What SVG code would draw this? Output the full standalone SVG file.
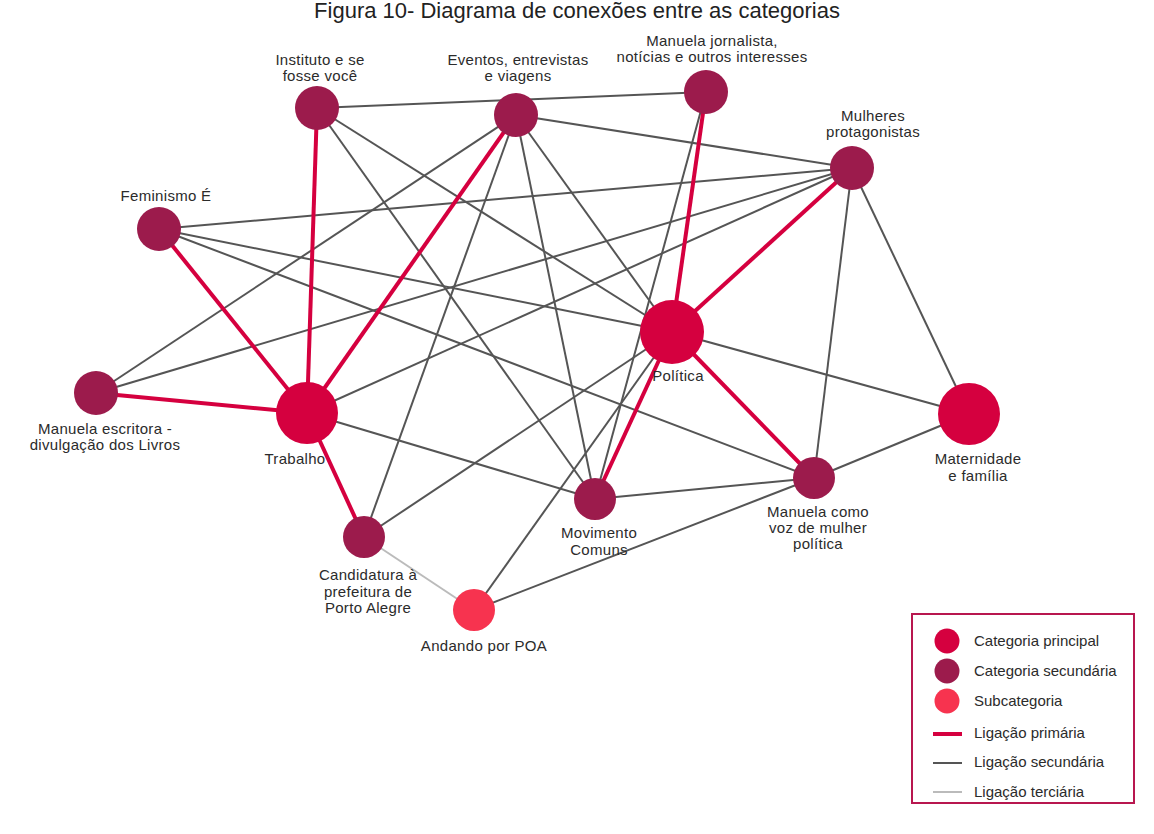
<svg xmlns="http://www.w3.org/2000/svg" width="1154" height="834" viewBox="0 0 1154 834">
<style>
  text{font-family:"Liberation Sans",Arial,sans-serif;fill:#2b2b2b}
  .title{font-size:22px;fill:#222;text-anchor:middle}
  .lbl{font-size:15px;letter-spacing:0.3px;text-anchor:middle}
  .leg{font-size:15px}
  .pri{stroke:#d5003f;stroke-width:4;fill:none}
  .sec{stroke:#555;stroke-width:2;fill:none}
  .ter{stroke:#bbb;stroke-width:2;fill:none}
  .main{fill:#d5003f}
  .second{fill:#9c1b4c}
  .sub{fill:#f7334f}
</style>
<rect width="1154" height="834" fill="#fff"/>
<text class="title" x="577" y="18">Figura 10- Diagrama de conexões entre as categorias</text>

<g id="connectors">
  <!-- secondary -->
  <line class="sec" x1="317" y1="108" x2="706" y2="92"/>
  <line class="sec" x1="317" y1="108" x2="672" y2="332"/>
  <line class="sec" x1="317" y1="108" x2="595" y2="499"/>
  <line class="sec" x1="516" y1="115" x2="96" y2="393"/>
  <line class="sec" x1="516" y1="115" x2="364" y2="537"/>
  <line class="sec" x1="516" y1="115" x2="595" y2="499"/>
  <line class="sec" x1="516" y1="115" x2="672" y2="332"/>
  <line class="sec" x1="516" y1="115" x2="852" y2="168"/>
  <line class="sec" x1="159" y1="229" x2="852" y2="168"/>
  <line class="sec" x1="159" y1="229" x2="672" y2="332"/>
  <line class="sec" x1="159" y1="229" x2="814" y2="478"/>
  <line class="sec" x1="96" y1="393" x2="852" y2="168"/>
  <line class="sec" x1="307" y1="413" x2="852" y2="168"/>
  <line class="sec" x1="307" y1="413" x2="595" y2="499"/>
  <line class="sec" x1="364" y1="537" x2="672" y2="332"/>
  <line class="sec" x1="706" y1="92" x2="595" y2="499"/>
  <line class="sec" x1="474" y1="610" x2="672" y2="332"/>
  <line class="sec" x1="474" y1="610" x2="814" y2="478"/>
  <line class="sec" x1="852" y1="168" x2="814" y2="478"/>
  <line class="sec" x1="852" y1="168" x2="969" y2="414"/>
  <line class="sec" x1="672" y1="332" x2="969" y2="414"/>
  <line class="sec" x1="814" y1="478" x2="969" y2="414"/>
  <line class="sec" x1="595" y1="499" x2="814" y2="478"/>
  <!-- tertiary -->
  <line class="ter" x1="364" y1="537" x2="474" y2="610"/>
  <!-- primary -->
  <line class="pri" x1="159" y1="229" x2="307" y2="413"/>
  <line class="pri" x1="96" y1="393" x2="307" y2="413"/>
  <line class="pri" x1="317" y1="108" x2="307" y2="413"/>
  <line class="pri" x1="516" y1="115" x2="307" y2="413"/>
  <line class="pri" x1="307" y1="413" x2="364" y2="537"/>
  <line class="pri" x1="706" y1="92" x2="672" y2="332"/>
  <line class="pri" x1="852" y1="168" x2="672" y2="332"/>
  <line class="pri" x1="672" y1="332" x2="814" y2="478"/>
  <line class="pri" x1="672" y1="332" x2="595" y2="499"/>
</g>

<g id="n-instituto">
  <circle class="second" cx="317" cy="108" r="22"/>
  <text class="lbl" x="320" y="65">Instituto e se</text>
  <text class="lbl" x="320" y="81">fosse você</text>
</g>
<g id="n-eventos">
  <circle class="second" cx="516" cy="115" r="22"/>
  <text class="lbl" x="518" y="65">Eventos, entrevistas</text>
  <text class="lbl" x="518" y="81">e viagens</text>
</g>
<g id="n-jornalista">
  <circle class="second" cx="706" cy="92" r="22"/>
  <text class="lbl" x="712" y="46">Manuela jornalista,</text>
  <text class="lbl" x="712" y="62">notícias e outros interesses</text>
</g>
<g id="n-mulheres">
  <circle class="second" cx="852" cy="168" r="22"/>
  <text class="lbl" x="873" y="121">Mulheres</text>
  <text class="lbl" x="873" y="137">protagonistas</text>
</g>
<g id="n-feminismo">
  <circle class="second" cx="159" cy="229" r="22"/>
  <text class="lbl" x="166" y="201">Feminismo É</text>
</g>
<g id="n-politica">
  <circle class="main" cx="672" cy="332" r="32"/>
  <text class="lbl" x="678" y="381">Política</text>
</g>
<g id="n-escritora">
  <circle class="second" cx="96" cy="393" r="22"/>
  <text class="lbl" x="105" y="434">Manuela escritora -</text>
  <text class="lbl" x="105" y="450">divulgação dos Livros</text>
</g>
<g id="n-trabalho">
  <circle class="main" cx="307" cy="413" r="31"/>
  <text class="lbl" x="295" y="464">Trabalho</text>
</g>
<g id="n-maternidade">
  <circle class="main" cx="969" cy="414" r="31"/>
  <text class="lbl" x="978" y="464">Maternidade</text>
  <text class="lbl" x="978" y="481">e família</text>
</g>
<g id="n-voz">
  <circle class="second" cx="814" cy="478" r="21"/>
  <text class="lbl" x="818" y="517">Manuela como</text>
  <text class="lbl" x="818" y="533">voz de mulher</text>
  <text class="lbl" x="818" y="549">política</text>
</g>
<g id="n-comuns">
  <circle class="second" cx="595" cy="499" r="21"/>
  <text class="lbl" x="599" y="538">Movimento</text>
  <text class="lbl" x="599" y="555">Comuns</text>
</g>
<g id="n-candidatura">
  <circle class="second" cx="364" cy="537" r="21"/>
  <text class="lbl" x="368" y="580">Candidatura à</text>
  <text class="lbl" x="368" y="597">prefeitura de</text>
  <text class="lbl" x="368" y="613">Porto Alegre</text>
</g>
<g id="n-andando">
  <circle class="sub" cx="474" cy="610" r="21"/>
  <text class="lbl" x="484" y="651">Andando por POA</text>
</g>

<g id="legend">
  <rect x="912" y="614" width="222" height="189" fill="none" stroke="#b8174f" stroke-width="2"/>
  <circle class="main" cx="947" cy="641" r="12.5"/>
  <circle class="second" cx="947" cy="671" r="12.5"/>
  <circle class="sub" cx="947" cy="701" r="12.5"/>
  <line x1="933" y1="734" x2="962" y2="734" stroke="#d5003f" stroke-width="4"/>
  <line x1="933" y1="763" x2="962" y2="763" stroke="#555" stroke-width="2"/>
  <line x1="933" y1="792" x2="962" y2="792" stroke="#bbb" stroke-width="2"/>
  <text class="leg" x="974" y="646">Categoria principal</text>
  <text class="leg" x="974" y="676">Categoria secundária</text>
  <text class="leg" x="974" y="706">Subcategoria</text>
  <text class="leg" x="974" y="738">Ligação primária</text>
  <text class="leg" x="974" y="767">Ligação secundária</text>
  <text class="leg" x="974" y="797">Ligação terciária</text>
</g>
</svg>
